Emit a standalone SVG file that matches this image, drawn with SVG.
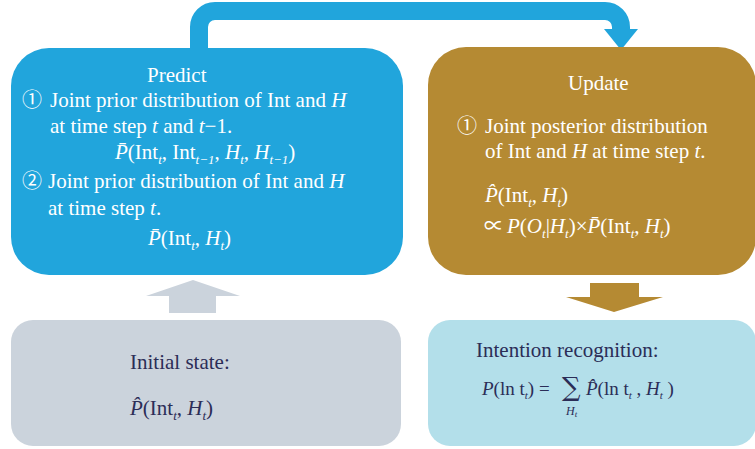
<svg xmlns="http://www.w3.org/2000/svg" width="755" height="449" viewBox="0 0 755 449">
<style>
text{font-family:"Liberation Serif","Times New Roman","DejaVu Serif",serif;font-size:21px}
.w{fill:#ffffff}
.d{fill:#2b2d57}
.i{font-style:italic}
.s{font-size:13px;font-style:italic}
.f{font-size:19px}
.c{font-family:"Noto Sans CJK SC","DejaVu Sans",sans-serif;font-size:20px}
.p{font-family:"Noto Sans CJK SC","DejaVu Sans",sans-serif;font-size:20px}
</style>
<rect width="755" height="449" fill="#ffffff"/>
<g id="connectors">
<path d="M199,50 V27 A16,16 0 0 1 215,11 H605 A16,16 0 0 1 621,27 V31" fill="none" stroke="#21a5dc" stroke-width="18"/>
<polygon points="604,29 638,29 621,50" fill="#21a5dc"/>
</g>
<g id="predict">
<rect x="11" y="48" width="392" height="227" rx="38" fill="#21a5dc"/>
<text class="w" x="147" y="82">Predict</text>
<text class="w" y="107"><tspan class="c" x="22">①</tspan><tspan x="50">Joint prior distribution of Int and </tspan><tspan class="i">H</tspan></text>
<text class="w" x="50" y="133">at time step <tspan class="i">t</tspan> and <tspan class="i">t</tspan>−1.</text>
<text class="w" x="115" y="159"><tspan class="i">P&#x304;</tspan>(Int<tspan class="s" dy="5">t</tspan><tspan dy="-5">, Int</tspan><tspan class="s" dy="5">t−1</tspan><tspan dy="-5">, </tspan><tspan class="i">H</tspan><tspan class="s" dy="5">t</tspan><tspan dy="-5">, </tspan><tspan class="i">H</tspan><tspan class="s" dy="5">t−1</tspan><tspan dy="-5">)</tspan></text>
<text class="w" y="188"><tspan class="c" x="22">②</tspan><tspan x="48">Joint prior distribution of Int and </tspan><tspan class="i">H</tspan></text>
<text class="w" x="48" y="215">at time step <tspan class="i">t</tspan>.</text>
<text class="w" x="148" y="245"><tspan class="i">P&#x304;</tspan>(Int<tspan class="s" dy="5">t</tspan><tspan dy="-5">, </tspan><tspan class="i">H</tspan><tspan class="s" dy="5">t</tspan><tspan dy="-5">)</tspan></text>
</g>
<g id="update">
<rect x="428" y="47" width="328" height="228" rx="38" fill="#b58a33"/>
<text class="w" x="568" y="90">Update</text>
<text class="w" y="133"><tspan class="c" x="457">①</tspan><tspan x="485">Joint posterior distribution</tspan></text>
<text class="w" x="485" y="158">of Int and <tspan class="i">H</tspan> at time step <tspan class="i">t</tspan>.</text>
<text class="w" x="485" y="202"><tspan class="i">P&#x302;</tspan>(Int<tspan class="s" dy="5">t</tspan><tspan dy="-5">, </tspan><tspan class="i">H</tspan><tspan class="s" dy="5">t</tspan><tspan dy="-5">)</tspan></text>
<text class="w" y="233"><tspan class="p" x="484">∝</tspan><tspan class="i" x="507">P</tspan>(<tspan class="i">O</tspan><tspan class="s" dy="5">t</tspan><tspan dy="-5">|</tspan><tspan class="i">H</tspan><tspan class="s" dy="5">t</tspan><tspan dy="-5">)×</tspan><tspan class="i">P&#x304;</tspan>(Int<tspan class="s" dy="5">t</tspan><tspan dy="-5">, </tspan><tspan class="i">H</tspan><tspan class="s" dy="5">t</tspan><tspan dy="-5">)</tspan></text>
</g>
<g id="arrow-up">
<polygon points="193,280 240,296 216,296 216,313 169,313 169,296 146,296" fill="#cbd3dc"/>
</g>
<g id="arrow-down">
<polygon points="590,283 639,283 639,297 663,297 614,312 566,297 590,297" fill="#b58a33"/>
</g>
<g id="initial">
<rect x="11" y="320" width="390" height="126" rx="22" fill="#cbd3dc"/>
<text class="d" x="130" y="369">Initial state:</text>
<text class="d" x="130" y="415"><tspan class="i">P&#x302;</tspan>(Int<tspan class="s" dy="5">t</tspan><tspan dy="-5">, </tspan><tspan class="i">H</tspan><tspan class="s" dy="5">t</tspan><tspan dy="-5">)</tspan></text>
</g>
<g id="intention">
<rect x="428" y="320" width="328" height="126" rx="22" fill="#b3dfea"/>
<text class="d" x="476" y="357">Intention recognition:</text>
<text class="d f" x="482" y="395"><tspan class="i">P</tspan>(ln t<tspan class="s" dy="4" style="font-size:11px">t</tspan><tspan dy="-4">)</tspan></text>
<text class="d f" x="539" y="395">=</text>
<text class="d" x="562" y="396" style="font-family:'DejaVu Serif',serif;font-size:26px">∑</text>
<text class="d s" x="566" y="415" style="font-size:12px">H<tspan dy="2" style="font-size:9px">t</tspan></text>
<text class="d f" x="586" y="395"><tspan class="i">P&#x302;</tspan>(ln t<tspan class="s" dy="4" style="font-size:11px">t</tspan><tspan dy="-4"> , </tspan><tspan class="i">H</tspan><tspan class="s" dy="4" style="font-size:11px">t</tspan><tspan dy="-4"> )</tspan></text>
</g>
</svg>
